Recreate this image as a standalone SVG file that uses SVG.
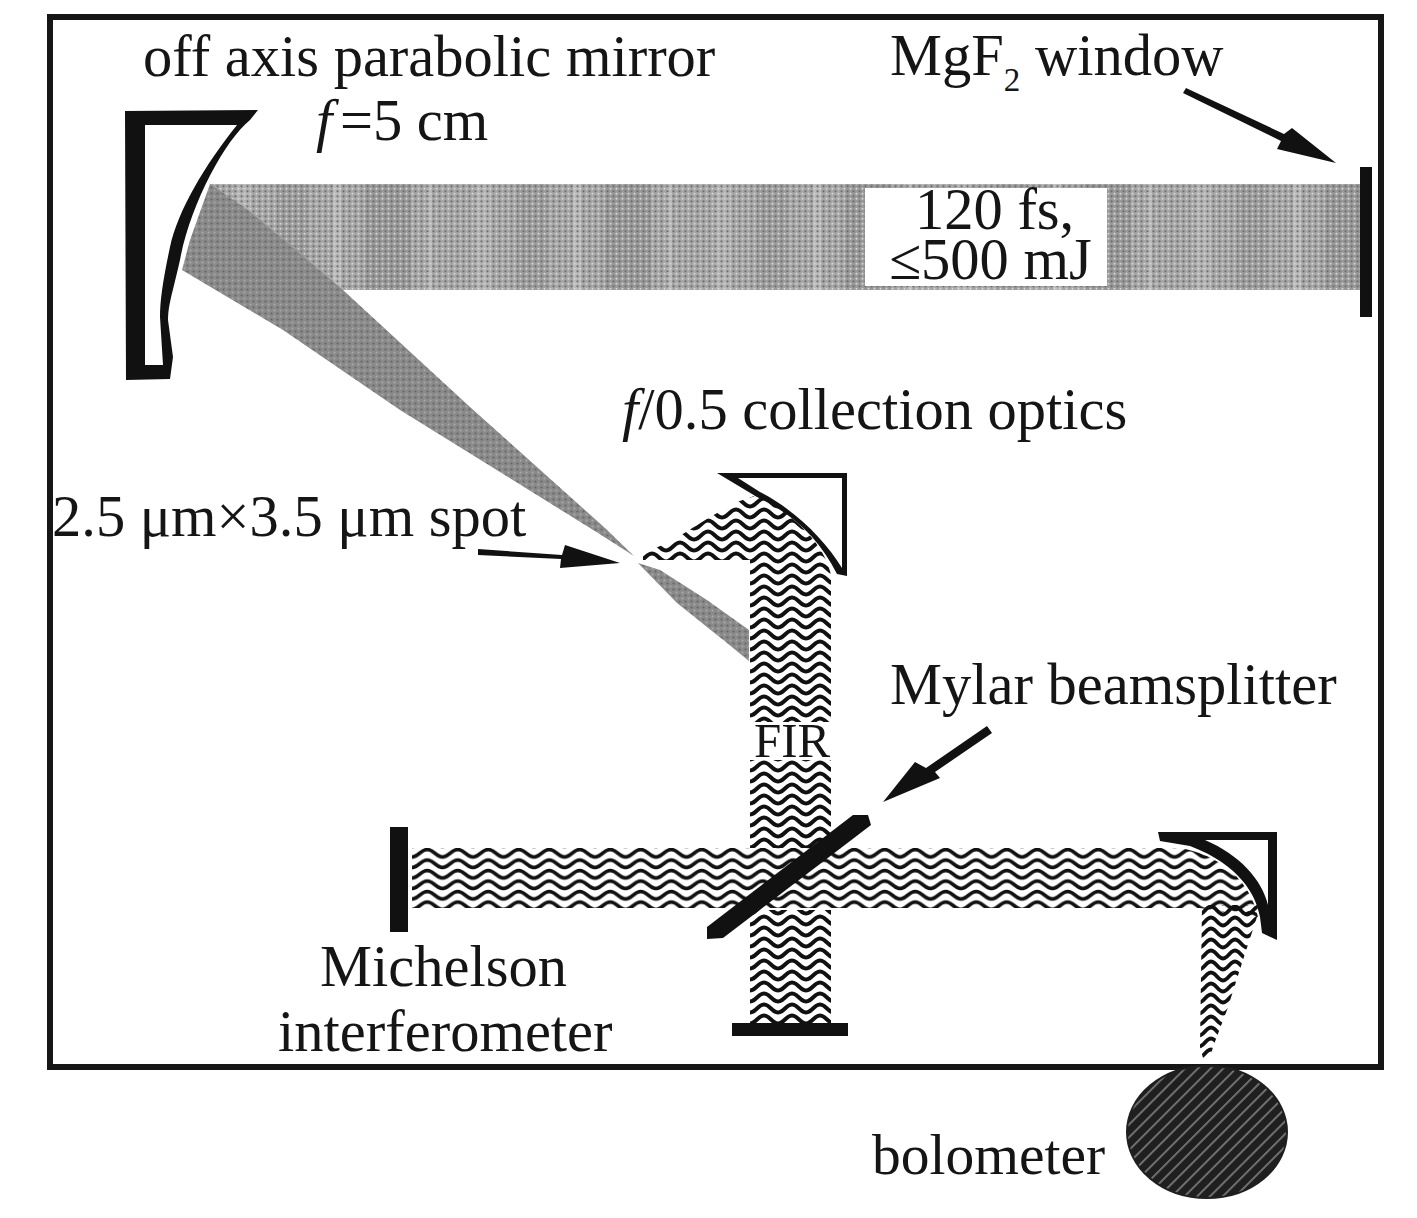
<svg xmlns="http://www.w3.org/2000/svg" width="1417" height="1218" viewBox="0 0 1417 1218">
<style>
text{font-family:"Liberation Serif","Times New Roman",serif;fill:#151515;font-size:58.5px}
.i{font-style:italic}
.k{fill:#111}
.w{fill:none;stroke:#111;stroke-width:3.9}
</style>
<defs>
<pattern id="waveV" width="28" height="11" patternUnits="userSpaceOnUse" patternTransform="translate(750 497)">
<path class="w" d="M-2,9.5 H0 C6,9.5 8,1.5 14,1.5 C20,1.5 22,9.5 28,9.5 H30"/>
<path class="w" d="M-2,-1.5 H0 C6,-1.5 8,-9.5 14,-9.5 C20,-9.5 22,-1.5 28,-1.5 H30"/>
<path class="w" d="M-2,20.5 H0 C6,20.5 8,12.5 14,12.5 C20,12.5 22,20.5 28,20.5 H30"/>
</pattern>
<pattern id="waveH" width="30.5" height="10.5" patternUnits="userSpaceOnUse" patternTransform="translate(412 848)">
<path class="w" style="stroke-width:3.6" d="M-2,9 H0 C6.5,9 8.7,1.5 15.25,1.5 C21.8,1.5 24,9 30.5,9 H32.5"/>
<path class="w" style="stroke-width:3.6" d="M-2,-1.5 H0 C6.5,-1.5 8.7,-9 15.25,-9 C21.8,-9 24,-1.5 30.5,-1.5 H32.5"/>
<path class="w" style="stroke-width:3.6" d="M-2,19.5 H0 C6.5,19.5 8.7,12 15.25,12 C21.8,12 24,19.5 30.5,19.5 H32.5"/>
</pattern>
<pattern id="waveD" width="24" height="11" patternUnits="userSpaceOnUse" patternTransform="translate(1199 905)">
<path class="w" d="M-2,9.5 H0 C5,9.5 7,1.5 12,1.5 C17,1.5 19,9.5 24,9.5 H26"/>
<path class="w" d="M-2,-1.5 H0 C5,-1.5 7,-9.5 12,-9.5 C17,-9.5 19,-1.5 24,-1.5 H26"/>
<path class="w" d="M-2,20.5 H0 C5,20.5 7,12.5 12,12.5 C17,12.5 19,20.5 24,20.5 H26"/>
</pattern>
<pattern id="bands" width="240" height="8" patternUnits="userSpaceOnUse" patternTransform="translate(205 184)">
<rect width="240" height="8" fill="#a6a6a6"/>
<rect x="30" width="16" height="8" fill="#b2b2b2"/>
<rect x="72" width="30" height="8" fill="#9c9c9c"/>
<rect x="128" width="8" height="8" fill="#bababa"/>
<rect x="160" width="46" height="8" fill="#989898"/>
<rect x="222" width="5" height="8" fill="#b8b8b8"/>
</pattern>
<pattern id="stipple" width="6" height="5" patternUnits="userSpaceOnUse">
<circle cx="1.5" cy="1.3" r="1.1" fill="#6e6e6e"/>
<circle cx="4.5" cy="3.7" r="1" fill="#d6d6d6"/>
</pattern>
<pattern id="grayD" width="6" height="6" patternUnits="userSpaceOnUse">
<rect width="6" height="6" fill="#8a8a8a"/>
<circle cx="1.5" cy="1.5" r="1.1" fill="#666"/>
<circle cx="4.5" cy="4.5" r="1" fill="#ababab"/>
</pattern>
<pattern id="hatch" width="9" height="9" patternUnits="userSpaceOnUse" patternTransform="rotate(-45 1207 1133)">
<rect width="9" height="9" fill="#1f1f1f"/>
<rect width="9" height="1.8" fill="#777"/>
</pattern>
<clipPath id="cVert"><path d="M643,553 L670,542 L710,517 L737,502 L757,495 C795,515 825,545 831,575 L831,848 L750,848 L750,560 L643,560 Z M750,910 H831 V1024 H750 Z"/></clipPath>
<clipPath id="cHor"><path d="M412,848 L1180,848 C1220,855 1250,880 1258,917 L1200,908 L412,908 Z"/></clipPath>
<clipPath id="cDown"><path d="M1202,905 L1258,905 L1257,917 L1243,960 L1227,1010 L1213,1047 L1210,1058 L1203,1058 L1200,1047 Z"/></clipPath>
</defs>
<rect width="1417" height="1218" fill="#fff"/>

<g id="beams">
<path d="M210,184 H1360 V290 H343 L210,200 Z" fill="url(#bands)"/>
<path d="M210,184 H1360 V290 H343 L210,200 Z" fill="url(#stipple)"/>
<path d="M210,184 L248,210 L343,290 L470,407 L605,528 L634,556 L598,533 L400,410 L283,330 L182,270 L190,240 Z" fill="url(#grayD)"/>
<path d="M638,563 L660,570 L707,600 L749,630 L749,661 L727,643 L677,603 Z" fill="url(#grayD)"/>
<rect x="865" y="188" width="242" height="98" fill="#fff"/>
<rect x="640" y="490" width="200" height="540" fill="url(#waveV)" clip-path="url(#cVert)"/>
<rect x="412" y="846" width="850" height="74" fill="url(#waveH)" clip-path="url(#cHor)"/>
<rect x="1198" y="905" width="64" height="156" fill="url(#waveD)" clip-path="url(#cDown)"/>
<rect x="750" y="722" width="82" height="38" fill="#fff"/>
</g>

<g id="frame"><rect x="50" y="17" width="1331" height="1050" fill="none" stroke="#161616" stroke-width="6"/></g>

<g id="parabolic-mirror"><path class="k" fill-rule="evenodd" d="M125,111 L258,110 L250,120 C225,140 190,205 180,260 C172,295 168,305 168,320 L173,357 L170,379 L126,380 Z M145,125 L145,365 L163,365 L160,317 C160,300 163,280 170,247 C178,210 205,165 237,125 Z"/></g>

<g id="collection-mirror">
<path class="k" fill-rule="evenodd" d="M717,473 L847,473 L847,576 L837,574 C820,540 795,515 757,497 Z M738,478 L760,492 C795,510 825,540 842,568 L842,478 Z"/>
</g>

<g id="michelson-mirror-left"><rect class="k" x="390" y="827" width="18" height="105"/></g>
<g id="michelson-mirror-bottom"><rect class="k" x="732" y="1023" width="116" height="13"/></g>
<g id="beamsplitter"><path class="k" d="M707,927 L853,815 L868,815 L871,825 L723,938 L707,939 Z"/></g>
<g id="window"><rect class="k" x="1360" y="167" width="12" height="150"/></g>

<g id="focus-mirror">
<path class="k" fill-rule="evenodd" d="M1158,832 H1277 V940 L1262,933 L1260,917 C1256,895 1240,865 1190,846 L1160,841 Z M1205,840 C1240,855 1262,880 1268,905 V840 Z"/>
</g>

<g id="bolometer"><ellipse cx="1207" cy="1132" rx="80" ry="66" fill="url(#hatch)" stroke="#1f1f1f" stroke-width="2"/></g>

<g id="connectors">
<path class="k" d="M1183,93 L1186,88 L1284,134 L1292,128 L1336,163 L1277,149 L1281,141 Z"/>
<path class="k" d="M478,549 L562,555 L565,545 L620,563 L560,568 L561,559 L478,555 Z"/>
<path class="k" d="M987,726 L992,733 L935,772 L940,778 L883,802 L915,762 L926,768 Z"/>
</g>

<g id="labels">
<text x="143" y="76">off axis parabolic mirror</text>
<text x="316" y="140"><tspan class="i">f</tspan><tspan x="340">=5 cm</tspan></text>
<text x="890" y="75">MgF<tspan dy="16" font-size="33">2</tspan><tspan dy="-16"> window</tspan></text>
<text x="915" y="229">120 fs,</text>
<text x="889" y="279">≤500 mJ</text>
<text x="622" y="429"><tspan class="i">f</tspan>/0.5 collection optics</text>
<text x="52" y="536">2.5 μm×3.5 μm spot</text>
<text x="890" y="704">Mylar beamsplitter</text>
<text x="754" y="757" style="font-size:49px">FIR</text>
<text x="320" y="986">Michelson</text>
<text x="278" y="1051">interferometer</text>
<text x="872" y="1174" style="font-size:57.5px">bolometer</text>
</g>
</svg>
